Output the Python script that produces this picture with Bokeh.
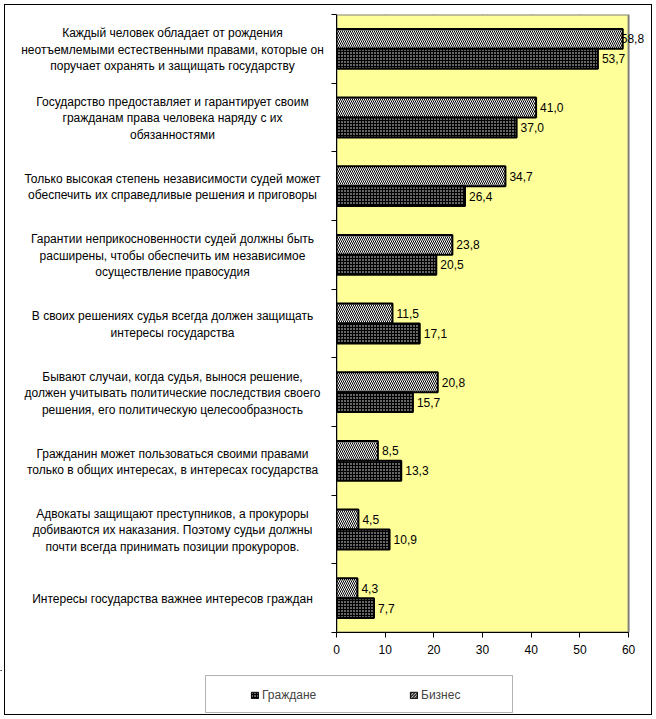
from bokeh.plotting import figure
from bokeh.layouts import row, column
from bokeh.models import (Range1d, FixedTicker, ColumnDataSource, Legend, LegendItem,
                          BoxAnnotation)
from bokeh.core.properties import value
from bokeh.embed import file_html
from bokeh.resources import INLINE

categories = [
    "Каждый человек обладает от рождения\nнеотъемлемыми естественными правами, которые он\nпоручает охранять и защищать государству",
    "Государство предоставляет и гарантирует своим\nгражданам права человека наряду с их\nобязанностями",
    "Только высокая степень независимости судей может\nобеспечить их справедливые решения и приговоры",
    "Гарантии неприкосновенности судей должны быть\nрасширены, чтобы обеспечить им независимое\nосуществление правосудия",
    "В своих решениях судья всегда должен защищать\nинтересы государства",
    "Бывают случаи, когда судья, вынося решение,\nдолжен учитывать политические последствия своего\nрешения, его политическую целесообразность",
    "Гражданин может пользоваться своими правами\nтолько в общих интересах, в интересах государства",
    "Адвокаты защищают преступников, а прокуроры\nдобиваются их наказания. Поэтому судьи должны\nпочти всегда принимать позиции прокуроров.",
    "Интересы государства важнее интересов граждан",
]
business = [58.8, 41.0, 34.7, 23.8, 11.5, 20.8, 8.5, 4.5, 4.3]
citizens = [53.7, 37.0, 26.4, 20.5, 17.1, 15.7, 13.3, 10.9, 7.7]
x_ticks = [0, 10, 20, 30, 40, 50, 60]

FONT_NAME = "Liberation Sans"
FONT = value(FONT_NAME)
FS = "12px"
n = len(categories)
bar_h = 0.29
x_max = x_ticks[-1]

def fmt(v):
    return f"{v:.1f}".replace(".", ",")

biz_src = ColumnDataSource(dict(
    y=[i + 0.5 - bar_h / 2 for i in range(n)],
    v=business,
    t=[fmt(v) for v in business],
    xo=[4 if v < 57 else -2 for v in business],
))
cit_src = ColumnDataSource(dict(
    y=[i + 0.5 + bar_h / 2 for i in range(n)],
    v=citizens,
    t=[fmt(v) for v in citizens],
    xo=[4 if v < 57 else -2 for v in citizens],
))
cat_src = ColumnDataSource(dict(y=[i + 0.5 for i in range(n)], t=categories))

y_range = Range1d(n, 0)
TOP_H = 670
LAB_W = 331

# ---- main chart ----
p = figure(width=656 - LAB_W, height=TOP_H, x_range=Range1d(0, 64.5), y_range=y_range,
           output_backend="svg", toolbar_location=None,
           min_border_left=5, min_border_right=6, min_border_top=14, min_border_bottom=38)
p.background_fill_color = None
p.border_fill_color = None
p.outline_line_color = None

# plot area (yellow) with gray border
p.quad(left=[0], right=[x_max], bottom=[n], top=[0], fill_color="#FFFF99",
       line_color="#808080", line_width=2)

p.xgrid.ticker = FixedTicker(ticks=x_ticks[1:-1])
p.xgrid.grid_line_color = "black"
p.xgrid.level = "underlay"
p.ygrid.grid_line_color = None

p.xaxis.ticker = FixedTicker(ticks=x_ticks)
p.xaxis.bounds = (0, x_max)
p.xaxis.major_tick_out = 5
p.xaxis.major_tick_in = 0
p.xaxis.minor_tick_line_color = None
p.xaxis.axis_line_color = "black"
p.xaxis.major_label_text_font = FONT_NAME
p.xaxis.major_label_text_font_size = FS
p.xaxis.major_label_text_color = "black"
p.xaxis.major_label_standoff = 7

p.yaxis.ticker = FixedTicker(ticks=list(range(n + 1)))
p.yaxis.major_tick_out = 5
p.yaxis.major_tick_in = 0
p.yaxis.major_label_standoff = 0
p.yaxis.minor_tick_line_color = None
p.yaxis.axis_line_color = "black"
p.yaxis.major_label_overrides = {i: "" for i in range(n + 1)}

r_biz = p.hbar(y="y", right="v", left=0, height=bar_h, source=biz_src,
               fill_color="white", line_color="black", line_width=2,
               hatch_pattern="\\", hatch_color="black", hatch_scale=4, hatch_weight=1)
r_cit = p.hbar(y="y", right="v", left=0, height=bar_h, source=cit_src,
               fill_color="black", line_color="black", line_width=2,
               hatch_pattern="dot", hatch_color="white", hatch_scale=3, hatch_weight=1)

for src in (biz_src, cit_src):
    p.text(x="v", y="y", text="t", x_offset="xo", source=src,
           text_baseline="middle", text_align="left",
           text_font=FONT, text_font_size=FS, text_color="black")

# ---- category labels ----
lab = figure(width=LAB_W, height=TOP_H, x_range=Range1d(0, LAB_W), y_range=y_range,
             output_backend="svg", toolbar_location=None,
             x_axis_location=None, y_axis_location=None,
             min_border_left=0, min_border_right=0, min_border_top=14, min_border_bottom=38)
lab.outline_line_color = None
lab.background_fill_color = None
lab.border_fill_color = None
lab.grid.visible = False
lab.text(x=172, y="y", text="t", source=cat_src, text_align="center",
         text_baseline="middle", text_line_height=1.18, y_offset=1,
         text_font=FONT, text_font_size=FS, text_color="black")

# ---- legend ----
LEG_H = 719 - TOP_H
leg = figure(width=656, height=LEG_H, x_range=Range1d(0, 656), y_range=Range1d(LEG_H, 0),
             output_backend="svg", toolbar_location=None,
             x_axis_location=None, y_axis_location=None,
             min_border_left=0, min_border_right=0, min_border_top=0, min_border_bottom=0)
leg.outline_line_color = None
leg.background_fill_color = None
leg.border_fill_color = None
leg.grid.visible = False
# swatch renderers for the legend (placed outside the visible range)
lr_cit = leg.hbar(y=[-100], right=[1], left=0, height=1, fill_color="black", line_color="black",
                  line_width=1, hatch_pattern="dot", hatch_color="white", hatch_scale=3,
                  hatch_weight=1)
lr_biz = leg.hbar(y=[-100], right=[1], left=0, height=1, fill_color="white", line_color="black",
                  line_width=1, hatch_pattern="\\", hatch_color="black", hatch_scale=3,
                  hatch_weight=1)
leg.add_layout(BoxAnnotation(left=205, right=512, top=5, bottom=42, fill_color=None,
                             line_color="black", line_width=1))
legend = Legend(items=[LegendItem(label="Граждане", renderers=[lr_cit]),
                       LegendItem(label="Бизнес", renderers=[lr_biz])],
                orientation="horizontal", location=(250, 14),
                border_line_color=None, background_fill_alpha=0,
                padding=0, margin=0, spacing=79, glyph_width=9, glyph_height=8,
                label_width=68, label_standoff=3, label_height=20,
                label_text_font=FONT_NAME, label_text_font_size=FS)
leg.add_layout(legend, "center")

layout = column(row(lab, p), leg)
layout.styles = {"outline": "1px solid black", "outline-offset": "-5px",
                 "background-color": "white"}

open("out.html", "w").write(file_html(layout, INLINE))
